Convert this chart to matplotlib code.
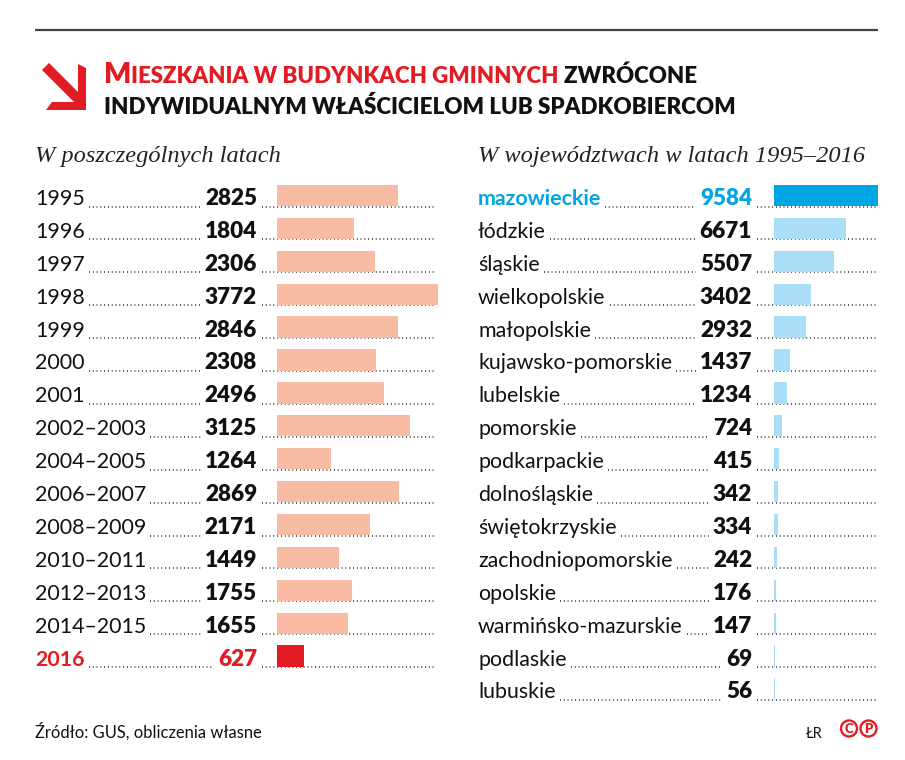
import matplotlib
matplotlib.use("Agg")
import matplotlib.pyplot as plt
from matplotlib.patches import Polygon, Circle
from matplotlib.transforms import blended_transform_factory

# data
years = ["1995", "1996", "1997", "1998", "1999", "2000", "2001",
         "2002\u20132003", "2004\u20132005", "2006\u20132007", "2008\u20132009",
         "2010\u20132011", "2012\u20132013", "2014\u20132015", "2016"]
year_values = [2825, 1804, 2306, 3772, 2846, 2308, 2496, 3125, 1264, 2869,
               2171, 1449, 1755, 1655, 627]

regions = ["mazowieckie", "łódzkie", "śląskie", "wielkopolskie", "małopolskie",
           "kujawsko-pomorskie", "lubelskie", "pomorskie", "podkarpackie",
           "dolnośląskie", "świętokrzyskie", "zachodniopomorskie", "opolskie",
           "warmińsko-mazurskie", "podlaskie", "lubuskie"]
region_values = [9584, 6671, 5507, 3402, 2932, 1437, 1234, 724, 415, 342, 334,
                 242, 176, 147, 69, 56]

title_red = "Mieszkania w budynkach gminnych"
title_black_1 = "zwrócone"
title_black_2 = "indywidualnym właścicielom lub spadkobiercom"
subtitle_left = "W poszczególnych latach"
subtitle_right = "W województwach w latach 1995\u20132016"
source = "Źródło: GUS, obliczenia własne"

RED = "#e31b23"
SALMON = "#f8bba3"
CYAN = "#00a5e3"
LIGHT_BLUE = "#aaddf6"
DOTS = "#333333"

SANS = "Lato"
SERIF = "Liberation Serif"

W, H = 905, 760
ROW0, STEP = 195.5, 32.9

fig = plt.figure(figsize=(W / 100, H / 100), dpi=100)
bg = fig.add_axes([0, 0, 1, 1])
bg.set_xlim(0, W)
bg.set_ylim(H, 0)
bg.axis("off")


def bar_axes(x0, x1, vmax):
    top = ROW0 - STEP / 2
    bottom = top + 16 * STEP
    ax = fig.add_axes([x0 / W, 1 - bottom / H, (x1 - x0) / W, (bottom - top) / H])
    ax.set_xlim(0, vmax)
    ax.set_ylim(15.5, -0.5)
    ax.axis("off")
    return ax


ax_l = bar_axes(277, 438, max(year_values))
ax_r = bar_axes(774, 878, max(region_values))

left_colors = [SALMON] * (len(year_values) - 1) + [RED]
right_colors = [CYAN] + [LIGHT_BLUE] * (len(region_values) - 1)
ax_l.barh(range(len(years)), year_values, height=0.65, color=left_colors)
ax_r.barh(range(len(regions)), region_values, height=0.65, color=right_colors)

# top rule and title
bg.plot([35, 878], [30, 30], color="#444444", lw=1.6, solid_capstyle="butt")
bg.add_patch(Polygon([(42, 70), (49, 63), (78, 92), (78, 64), (86, 68), (86, 110),
                      (46, 110), (52, 102), (74, 102)], closed=True,
                     color=RED, lw=0))

renderer = fig.canvas.get_renderer()
inv = bg.transData.inverted()


def x_end(t):
    bb = t.get_window_extent(renderer)
    return inv.transform((bb.x1, 0))[0]


def x_start(t):
    bb = t.get_window_extent(renderer)
    return inv.transform((bb.x0, 0))[0]


def run(x, y, s, size, color):
    t = bg.text(x, y, s, fontsize=size, color=color, fontfamily=SANS,
                fontweight="heavy", va="baseline", ha="left")
    return x_end(t)


x = run(104, 83, title_red[0].upper(), 20.5, RED)
x = run(x, 83, title_red[1:].upper(), 16.0, RED)
run(x, 83, " " + title_black_1.upper(), 16.0, "#111111")
run(104, 114, title_black_2.upper(), 16.1, "#111111")

bg.text(35, 162, subtitle_left, fontsize=17.6, fontfamily=SERIF, style="italic",
        color="#222222", va="baseline")
bg.text(478, 162, subtitle_right, fontsize=17.6, fontfamily=SERIF, style="italic",
        color="#222222", va="baseline")


def rows(ax, labels, values, x_label, x_value, x_dots_end, hl_index, hl_color):
    tr = blended_transform_factory(bg.transData, ax.transData)
    base = 9.5 / STEP
    for i, (lab, val) in enumerate(zip(labels, values)):
        hl = i == hl_index
        c = hl_color if hl else "#111111"
        t1 = ax.text(x_label, i + base, lab, transform=tr, fontsize=15.4,
                     fontfamily=SANS, fontweight="bold" if hl else "normal",
                     color=c, va="baseline", ha="left", clip_on=False)
        t2 = ax.text(x_value, i + base, f"{val}", transform=tr, fontsize=16.2,
                     fontfamily=SANS, fontweight="heavy", color=c,
                     va="baseline", ha="right", clip_on=False)
        y_dot = ROW0 + i * STEP + 11
        a, b = x_end(t1) + 4, x_start(t2) - 4
        bg.plot([a, b], [y_dot, y_dot], color=DOTS, lw=1.3, ls=(0, (0.5, 1.6)))
        bg.plot([x_end(t2) + 5, x_dots_end], [y_dot, y_dot], color=DOTS, lw=1.3,
                ls=(0, (0.5, 1.6)))


rows(ax_l, years, year_values, 35, 257, 436, len(years) - 1, RED)
rows(ax_r, regions, region_values, 478, 752, 877, 0, CYAN)

# footer
bg.text(35, 738, source, fontsize=11.9, fontfamily=SANS, color="#111111",
        va="baseline")
bg.text(806, 738, "ŁR", fontsize=10.5, fontfamily=SANS, color="#111111",
        va="baseline")
for cx, letter in [(849, "C"), (868.5, "P")]:
    bg.add_patch(Circle((cx, 728.5), 8, fill=False, ec=RED, lw=1.7))
    bg.text(cx, 729, letter, fontsize=9.5, fontfamily=SANS, fontweight="heavy",
            color=RED, ha="center", va="center")

fig.savefig("out.png", dpi=100)
